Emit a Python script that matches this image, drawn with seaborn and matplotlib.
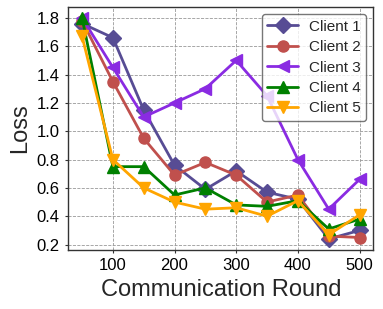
import numpy as np
import pandas as pd
import matplotlib
matplotlib.use('Agg')
import matplotlib.pyplot as plt
import seaborn as sns

# data
rounds = [50, 100, 150, 200, 250, 300, 350, 400, 450, 500]
client_names = ['Client 1', 'Client 2', 'Client 3', 'Client 4', 'Client 5']
client1 = [1.76, 1.66, 1.15, 0.76, 0.59, 0.72, 0.57, 0.52, 0.24, 0.30]
client2 = [1.78, 1.35, 0.95, 0.69, 0.78, 0.69, 0.50, 0.55, 0.26, 0.25]
client3 = [1.80, 1.45, 1.10, 1.20, 1.30, 1.50, 1.25, 0.80, 0.45, 0.66]
client4 = [1.80, 0.75, 0.75, 0.55, 0.60, 0.48, 0.47, 0.51, 0.31, 0.38]
client5 = [1.67, 0.80, 0.60, 0.50, 0.45, 0.46, 0.40, 0.51, 0.27, 0.41]

colors = ['#574C94', '#C0504D', '#8A2BE2', '#008000', '#FFA500']
markers = ['D', 'o', '<', '^', 'v']

df = pd.DataFrame({
    'Round': rounds * 5,
    'Loss': client1 + client2 + client3 + client4 + client5,
    'Client': [c for c in client_names for _ in rounds],
})

sns.set_style('whitegrid', {'grid.linestyle': '--', 'grid.color': '#999999',
                            'axes.edgecolor': '#333333'})
plt.rcParams['font.family'] = ['Liberation Sans', 'DejaVu Sans']
plt.rcParams['xtick.major.size'] = 2.5
plt.rcParams['ytick.major.size'] = 2.5
plt.rcParams['xtick.bottom'] = True
plt.rcParams['ytick.left'] = True

fig, ax = plt.subplots(figsize=(3.83, 3.09), dpi=100)
sns.lineplot(data=df, x='Round', y='Loss', hue='Client', style='Client',
             palette=dict(zip(client_names, colors)),
             markers=dict(zip(client_names, markers)), dashes=False,
             linewidth=2, markersize=8, markeredgewidth=1, ax=ax)

# markers with same-coloured edge (no white rim)
for ln in ax.lines:
    ln.set_markeredgecolor(ln.get_color())

ax.grid(True, linestyle='--', linewidth=0.6, color='#999999')
ax.set_xticks([100, 200, 300, 400, 500])
yt = np.arange(0.2, 1.81, 0.2)
ax.set_yticks(yt)
ax.set_yticklabels([f'{v:.1f}' for v in yt])
ax.tick_params(labelsize=12, colors='black')
ax.tick_params(color='#333333')
ax.set_xlabel('Communication Round', fontsize=17)
ax.set_ylabel('Loss', fontsize=17)
for s in ax.spines.values():
    s.set_color('#333333')
    s.set_linewidth(1.0)

leg = ax.legend(loc='upper right', fontsize=11, frameon=True, handlelength=2,
                borderpad=0.35, labelspacing=0.42, handletextpad=0.7)
for h in leg.get_lines():
    h.set_markeredgecolor(h.get_color())
leg.get_frame().set_edgecolor('#555555')

fig.subplots_adjust(left=0.178, right=0.975, top=0.978, bottom=0.191)
fig.savefig('out.png', dpi=100)
